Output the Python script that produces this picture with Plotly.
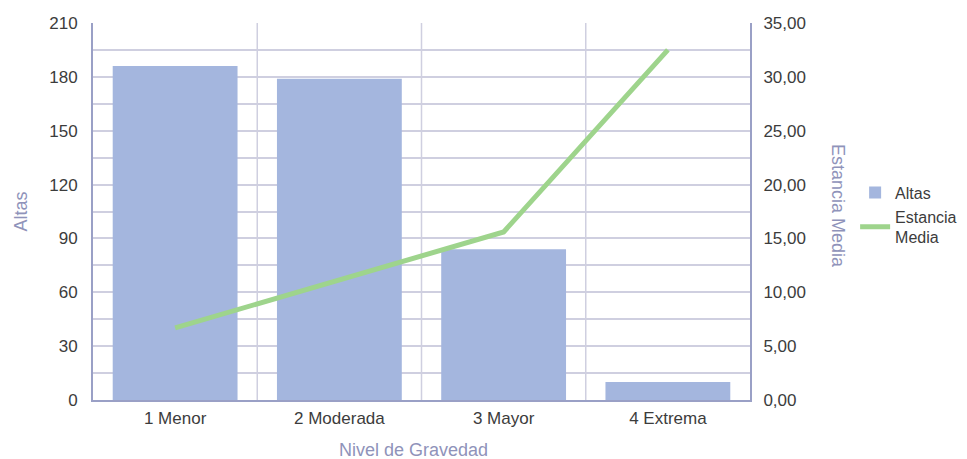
import plotly.graph_objects as go

categories = ["1 Menor", "2 Moderada", "3 Mayor", "4 Extrema"]
altas = [186, 179, 84, 10]
estancia_media = [6.7, 11.1, 15.6, 32.5]
left_ticks = [0, 30, 60, 90, 120, 150, 180, 210]
right_ticks = [0, 5, 10, 15, 20, 25, 30, 35]

grid_col = "#cfcfe0"
axis_col = "#9aa0c6"
title_col = "#8f93ba"
tick_col = "#3c3c3c"
font_family = "Liberation Sans, Arial, sans-serif"

# page body has an 8px offset; plot area target: x 93..750, y 23..400
OFF = 8
L, R, T, B = 93 - OFF, 967 - 750 + OFF, 23 - OFF, 459 - 400 + OFF

fig = go.Figure()
fig.add_trace(go.Bar(
    x=categories, y=altas, name="Altas",
    marker=dict(color="#a4b6de", line=dict(width=0)),
    yaxis="y",
))
fig.add_trace(go.Scatter(
    x=categories, y=estancia_media, name="Estancia<br>Media",
    mode="lines", line=dict(color="#9ed48c", width=5),
    yaxis="y2",
))

for i in range(1, len(categories)):
    fig.add_shape(type="line", xref="x", yref="paper", x0=i - 0.5, x1=i - 0.5,
                  y0=0, y1=1, line=dict(color=grid_col, width=1.5), layer="below")

fig.update_layout(
    width=967, height=459,
    margin=dict(l=L, r=R, t=T, b=B, autoexpand=False),
    plot_bgcolor="white", paper_bgcolor="white",
    font=dict(family=font_family, size=17, color=tick_col),
    bargap=0.24,
    showlegend=True,
    legend=dict(x=1.16, y=0.595, xanchor="left", yanchor="top",
                font=dict(size=16, color=tick_col), tracegroupgap=4,
                itemwidth=30, bgcolor="rgba(0,0,0,0)"),
    xaxis=dict(
        range=[-0.5, 3.5], showgrid=False, showline=True, linecolor=axis_col,
        linewidth=2, ticks="", tickfont=dict(size=17, color=tick_col),
        automargin=False, ticklabelstandoff=2,
    ),
    yaxis=dict(
        range=[0, 210], tickvals=left_ticks, showgrid=True, gridcolor=grid_col, gridwidth=1.5,
        minor=dict(dtick=15, showgrid=True, gridcolor=grid_col, gridwidth=1.5),
        showline=True, linecolor=axis_col, linewidth=2, zeroline=False,
        ticks="", tickfont=dict(size=17, color=tick_col), ticklabelstandoff=10,
        automargin=False,
        title=dict(text="Altas", font=dict(size=18, color=title_col), standoff=17),
    ),
    yaxis2=dict(
        range=[0, 35], tickvals=right_ticks, tickformat=".2f", overlaying="y", side="right",
        showgrid=False, showline=True, linecolor=axis_col, linewidth=2, zeroline=False,
        ticks="", tickfont=dict(size=17, color=tick_col), ticklabelstandoff=8,
        automargin=False,
    ),
    separators=",.",
)

fig.add_annotation(
    text="Estancia Media", xref="paper", yref="paper",
    x=(838 - 93) / 657, y=(400 - 206) / 377, showarrow=False, textangle=90,
    font=dict(size=18, color=title_col), xanchor="center", yanchor="middle",
)
fig.add_annotation(
    text="Nivel de Gravedad", xref="paper", yref="paper",
    x=(413 - 93) / 657, y=-(450 - 400) / 377, showarrow=False,
    font=dict(size=18, color=title_col), xanchor="center", yanchor="middle",
)

fig.write_html("out.html")
